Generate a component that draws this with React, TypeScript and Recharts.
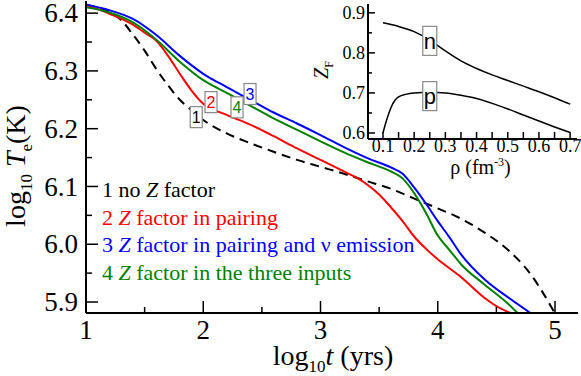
import React from 'react';
import { LineChart, Line, XAxis, YAxis, ReferenceDot, Legend, Label } from 'recharts';

// main panel: log10 Te vs log10 t
const noZ = [
  { x: 1.0, y: 6.414 }, { x: 1.2, y: 6.402 }, { x: 1.3, y: 6.388 }, { x: 1.4, y: 6.363 },
  { x: 1.5, y: 6.335 }, { x: 1.6, y: 6.303 }, { x: 1.7, y: 6.275 }, { x: 1.8, y: 6.25 },
  { x: 1.9, y: 6.232 }, { x: 2.0, y: 6.215 }, { x: 2.2, y: 6.192 }, { x: 2.4, y: 6.175 },
  { x: 2.6, y: 6.16 }, { x: 2.8, y: 6.146 }, { x: 3.0, y: 6.134 }, { x: 3.2, y: 6.122 },
  { x: 3.4, y: 6.109 }, { x: 3.6, y: 6.096 }, { x: 3.8, y: 6.079 }, { x: 4.0, y: 6.062 },
  { x: 4.2, y: 6.044 }, { x: 4.4, y: 6.02 }, { x: 4.6, y: 5.99 }, { x: 4.8, y: 5.946 },
  { x: 4.9, y: 5.915 }, { x: 5.0, y: 5.88 },
];
const zPairing = [
  { x: 1.0, y: 6.414 }, { x: 1.2, y: 6.399 }, { x: 1.4, y: 6.38 }, { x: 1.5, y: 6.366 },
  { x: 1.6, y: 6.352 }, { x: 1.7, y: 6.326 }, { x: 1.8, y: 6.295 }, { x: 1.9, y: 6.266 },
  { x: 2.0, y: 6.243 }, { x: 2.2, y: 6.224 }, { x: 2.4, y: 6.207 }, { x: 2.6, y: 6.187 },
  { x: 2.8, y: 6.166 }, { x: 3.0, y: 6.146 }, { x: 3.2, y: 6.126 }, { x: 3.3, y: 6.116 },
  { x: 3.4, y: 6.103 }, { x: 3.5, y: 6.086 }, { x: 3.6, y: 6.064 }, { x: 3.7, y: 6.04 },
  { x: 3.8, y: 6.013 }, { x: 3.9, y: 5.992 }, { x: 4.0, y: 5.974 }, { x: 4.2, y: 5.943 },
  { x: 4.4, y: 5.907 }, { x: 4.5, y: 5.893 }, { x: 4.62, y: 5.881 },
];
const zPairingNu = [
  { x: 1.0, y: 6.415 }, { x: 1.2, y: 6.405 }, { x: 1.4, y: 6.39 }, { x: 1.6, y: 6.362 },
  { x: 1.8, y: 6.326 }, { x: 2.0, y: 6.295 }, { x: 2.2, y: 6.272 }, { x: 2.4, y: 6.25 },
  { x: 2.6, y: 6.228 }, { x: 2.8, y: 6.209 }, { x: 3.0, y: 6.189 }, { x: 3.2, y: 6.168 },
  { x: 3.4, y: 6.149 }, { x: 3.6, y: 6.133 }, { x: 3.7, y: 6.122 }, { x: 3.8, y: 6.098 },
  { x: 3.9, y: 6.07 }, { x: 4.0, y: 6.04 }, { x: 4.1, y: 6.012 }, { x: 4.2, y: 5.982 },
  { x: 4.4, y: 5.939 }, { x: 4.6, y: 5.908 }, { x: 4.79, y: 5.881 },
];
const zThree = [
  { x: 1.0, y: 6.41 }, { x: 1.2, y: 6.401 }, { x: 1.4, y: 6.384 }, { x: 1.6, y: 6.354 },
  { x: 1.8, y: 6.316 }, { x: 2.0, y: 6.284 }, { x: 2.2, y: 6.262 }, { x: 2.4, y: 6.24 },
  { x: 2.6, y: 6.218 }, { x: 2.8, y: 6.198 }, { x: 3.0, y: 6.178 }, { x: 3.2, y: 6.159 },
  { x: 3.4, y: 6.142 }, { x: 3.6, y: 6.126 }, { x: 3.7, y: 6.114 }, { x: 3.8, y: 6.088 },
  { x: 3.9, y: 6.054 }, { x: 4.0, y: 6.015 }, { x: 4.1, y: 5.99 }, { x: 4.2, y: 5.965 },
  { x: 4.4, y: 5.93 }, { x: 4.6, y: 5.897 }, { x: 4.68, y: 5.881 },
];

// inset: Z factor vs density
const zfNeutron = [
  { x: 0.1, y: 0.875 }, { x: 0.15, y: 0.866 }, { x: 0.2, y: 0.853 }, { x: 0.25, y: 0.832 },
  { x: 0.3, y: 0.805 }, { x: 0.35, y: 0.78 }, { x: 0.4, y: 0.761 }, { x: 0.45, y: 0.745 },
  { x: 0.5, y: 0.731 }, { x: 0.55, y: 0.717 }, { x: 0.6, y: 0.703 }, { x: 0.65, y: 0.688 },
  { x: 0.7, y: 0.672 },
];
const zfProton = [
  { x: 0.1, y: 0.6 }, { x: 0.11, y: 0.628 }, { x: 0.12, y: 0.652 }, { x: 0.13, y: 0.671 },
  { x: 0.14, y: 0.683 }, { x: 0.15, y: 0.69 }, { x: 0.175, y: 0.697 }, { x: 0.2, y: 0.7 },
  { x: 0.25, y: 0.702 }, { x: 0.3, y: 0.7 }, { x: 0.35, y: 0.694 }, { x: 0.4, y: 0.686 },
  { x: 0.45, y: 0.674 }, { x: 0.5, y: 0.66 }, { x: 0.55, y: 0.645 }, { x: 0.6, y: 0.63 },
  { x: 0.65, y: 0.615 }, { x: 0.7, y: 0.601 },
];

const mainXTicks = [1, 1.5, 2, 2.5, 3, 3.5, 4, 4.5, 5];
const mainYTicks = [5.9, 5.95, 6.0, 6.05, 6.1, 6.15, 6.2, 6.25, 6.3, 6.35, 6.4];
const insetXTicks = [0.1, 0.15, 0.2, 0.25, 0.3, 0.35, 0.4, 0.45, 0.5, 0.55, 0.6, 0.65, 0.7];
const insetYTicks = [0.6, 0.65, 0.7, 0.75, 0.8, 0.85, 0.9];

const series = [
  { key: 'noZ', num: '1', data: noZ, color: '#000000', dash: '9 6', label: '1 no *Z* factor' },
  { key: 'pair', num: '2', data: zPairing, color: '#ff0000', dash: undefined, label: '2 *Z* factor in pairing' },
  { key: 'nu', num: '3', data: zPairingNu, color: '#0000ff', dash: undefined, label: '3 *Z* factor in pairing and ν emission' },
  { key: 'three', num: '4', data: zThree, color: '#008000', dash: undefined, label: '4 *Z* factor in the three inputs' },
];

// numbered boxes on the curves, in data units
const curveTags = [
  { text: '1', x: 1.94, y: 6.22, color: '#000000' },
  { text: '2', x: 2.066, y: 6.246, color: '#ff0000' },
  { text: '4', x: 2.288, y: 6.237, color: '#008000' },
  { text: '3', x: 2.399, y: 6.26, color: '#0000ff' },
];
const insetTags = [
  { text: 'n', x: 0.25, y: 0.83 },
  { text: 'p', x: 0.25, y: 0.692 },
];

const SERIF = '"Liberation Serif", "Times New Roman", serif';
const SANS = '"Liberation Sans", Arial, sans-serif';

const isTenth = (v: number) => Math.abs(v * 10 - Math.round(v * 10)) < 1e-6;
const isWhole = (v: number) => Math.abs(v - Math.round(v)) < 1e-6;

interface TickCfg {
  side: 'left' | 'right' | 'top' | 'bottom';
  isMajor: (v: number) => boolean;
  majorLen: number;
  minorLen: number;
  fontSize?: number;
  gap?: number;
  fmt?: (v: number) => string;
}

// inward ticks with labels only on the major ones
const makeTick = (c: TickCfg) => (props: any) => {
  const { x, y, payload } = props;
  const v = payload.value as number;
  const major = c.isMajor(v);
  const len = major ? c.majorLen : c.minorLen;
  const d = { left: [len, 0], right: [-len, 0], top: [0, len], bottom: [0, -len] }[c.side];
  let label = null;
  if (major && c.fmt && c.fontSize) {
    const fs = c.fontSize;
    if (c.side === 'left') {
      label = (
        <text x={x - (c.gap || 0)} y={y + fs * 0.34} textAnchor="end" fontFamily={SERIF} fontSize={fs} fill="#000">
          {c.fmt(v)}
        </text>
      );
    } else if (c.side === 'bottom') {
      label = (
        <text x={x} y={y + (c.gap || 0)} textAnchor="middle" fontFamily={SERIF} fontSize={fs} fill="#000">
          {c.fmt(v)}
        </text>
      );
    }
  }
  return (
    <g>
      <line x1={x} y1={y} x2={x + d[0]} y2={y + d[1]} stroke="#000" strokeWidth={1.5} />
      {label}
    </g>
  );
};

const TagBox = ({ cx, cy, text, color, w, h, fs }: any) => (
  <g>
    <rect x={cx - w / 2} y={cy - h / 2} width={w} height={h} fill="#fff" stroke="#888" strokeWidth={1.2} />
    <text x={cx} y={cy + fs * 0.36} textAnchor="middle" fontFamily={SANS} fontSize={fs} fill={color}>
      {text}
    </text>
  </g>
);

const renderLabelText = (s: string) =>
  s.split('*').map((part, i) =>
    i % 2 === 1 ? <i key={i}>{part}</i> : <span key={i}>{part}</span>
  );

const LegendBlock = () => (
  <div style={{ fontFamily: SERIF, fontSize: 22, lineHeight: '27.7px', whiteSpace: 'nowrap' }}>
    {series.map((s) => (
      <div key={s.key} style={{ color: s.color }}>{renderLabelText(s.label)}</div>
    ))}
  </div>
);

const axisStroke = { stroke: '#000', strokeWidth: 2 };

const App = () => {
  const xDomain = [1, 5.196];
  const yDomain = [5.881, 6.421];
  const ixDomain = [0.052, 0.722];
  const iyDomain = [0.585, 0.922];

  return (
    <div style={{ position: 'absolute', left: 0, top: 0, width: 581, height: 376, background: '#fff' }}>
      <div style={{ position: 'absolute', left: 0, top: 0 }}>
        <LineChart width={581} height={376} margin={{ top: 1, right: 3, bottom: 0, left: 0 }}>
          <XAxis
            dataKey="x"
            type="number"
            domain={xDomain}
            ticks={mainXTicks}
            interval={0}
            allowDataOverflow
            height={63}
            tickSize={0}
            tickMargin={0}
            tickLine={false}
            axisLine={axisStroke}
            tick={makeTick({ side: 'bottom', isMajor: isWhole, majorLen: 12, minorLen: 6, fontSize: 27, gap: 26, fmt: (v) => String(v) })}
          >
            <Label
              content={({ viewBox }: any) => {
                const cx = viewBox.x + viewBox.width / 2 + 1;
                const by = viewBox.y + 52;
                return (
                  <text x={cx} y={by} textAnchor="middle" fontFamily={SERIF} fontSize={28} fill="#000">
                    <tspan>log</tspan>
                    <tspan dy={7} fontSize={17}>10</tspan>
                    <tspan dy={-7} fontStyle="italic">t</tspan>
                    <tspan> (yrs)</tspan>
                  </text>
                );
              }}
            />
          </XAxis>
          <XAxis xAxisId="top" orientation="top" type="number" domain={xDomain} allowDataOverflow height={0} tick={false} tickLine={false} axisLine={axisStroke} />
          <YAxis
            type="number"
            domain={yDomain}
            ticks={mainYTicks}
            interval={0}
            allowDataOverflow
            width={86}
            tickSize={0}
            tickMargin={0}
            tickLine={false}
            axisLine={axisStroke}
            tick={makeTick({ side: 'left', isMajor: isTenth, majorLen: 12, minorLen: 6, fontSize: 27, gap: 8, fmt: (v) => v.toFixed(1) })}
          >
            <Label
              content={({ viewBox }: any) => {
                const bx = viewBox.x + 25;
                const cy = viewBox.y + 165;
                return (
                  <text transform={`rotate(-90 ${bx} ${cy})`} x={bx} y={cy} textAnchor="middle" fontFamily={SERIF} fontSize={28} fill="#000">
                    <tspan>log</tspan>
                    <tspan dy={7} fontSize={17}>10</tspan>
                    <tspan dy={-7}> </tspan>
                    <tspan fontStyle="italic">T</tspan>
                    <tspan dy={7} fontSize={17}>e</tspan>
                    <tspan dy={-7}>(K)</tspan>
                  </text>
                );
              }}
            />
          </YAxis>
          <YAxis yAxisId="right" orientation="right" type="number" domain={yDomain} allowDataOverflow width={0} tick={false} tickLine={false} axisLine={axisStroke} />
          {series.map((s) => (
            <Line
              key={s.key}
              data={s.data}
              dataKey="y"
              type="monotone"
              stroke={s.color}
              strokeWidth={2}
              strokeDasharray={s.dash}
              dot={false}
              activeDot={false}
              isAnimationActive={false}
            />
          ))}
          {curveTags.map((t) => (
            <ReferenceDot
              key={t.text}
              x={t.x}
              y={t.y}
              r={0}
              shape={(p: any) => <TagBox cx={p.cx} cy={p.cy} text={t.text} color={t.color} w={12} h={21} fs={16} />}
            />
          ))}
          <Legend
            layout="vertical"
            align="center"
            verticalAlign="middle"
            wrapperStyle={{ left: 102, top: 176, width: 'auto' }}
            content={() => <LegendBlock />}
          />
        </LineChart>
      </div>

      <div style={{ position: 'absolute', left: 300, top: 0 }}>
        <LineChart width={281} height={180} margin={{ top: 4, right: 4, bottom: 0, left: 0 }}>
          <XAxis
            dataKey="x"
            type="number"
            domain={ixDomain}
            ticks={insetXTicks}
            interval={0}
            allowDataOverflow
            height={41}
            tickSize={0}
            tickMargin={0}
            tickLine={false}
            axisLine={axisStroke}
            tick={makeTick({ side: 'bottom', isMajor: isTenth, majorLen: 7, minorLen: 7, fontSize: 18, gap: 13, fmt: (v) => v.toFixed(1) })}
          >
            <Label
              content={({ viewBox }: any) => {
                const cx = viewBox.x + viewBox.width / 2 + 8;
                const by = viewBox.y + 35;
                return (
                  <text x={cx} y={by} textAnchor="middle" fontFamily={SERIF} fontSize={20} fill="#000">
                    <tspan>ρ (fm</tspan>
                    <tspan dy={-8} fontSize={12}>-3</tspan>
                    <tspan dy={8}>)</tspan>
                  </text>
                );
              }}
            />
          </XAxis>
          <XAxis
            xAxisId="top"
            orientation="top"
            type="number"
            domain={ixDomain}
            ticks={insetXTicks}
            interval={0}
            allowDataOverflow
            height={0}
            tickSize={0}
            tickMargin={0}
            tickLine={false}
            axisLine={axisStroke}
            tick={makeTick({ side: 'top', isMajor: isTenth, majorLen: 5, minorLen: 5 })}
          />
          <YAxis
            type="number"
            domain={iyDomain}
            ticks={insetYTicks}
            interval={0}
            allowDataOverflow
            width={68}
            tickSize={0}
            tickMargin={0}
            tickLine={false}
            axisLine={axisStroke}
            tick={makeTick({ side: 'left', isMajor: isTenth, majorLen: 7, minorLen: 4, fontSize: 18, gap: 3, fmt: (v) => v.toFixed(1) })}
          >
            <Label
              content={({ viewBox }: any) => {
                const bx = viewBox.x + 28;
                const cy = viewBox.y + 66;
                return (
                  <text transform={`rotate(-90 ${bx} ${cy})`} x={bx} y={cy} textAnchor="middle" fontFamily={SERIF} fontSize={20} fill="#000">
                    <tspan fontStyle="italic">Z</tspan>
                    <tspan dy={5} fontSize={12}>F</tspan>
                  </text>
                );
              }}
            />
          </YAxis>
          <YAxis
            yAxisId="right"
            orientation="right"
            type="number"
            domain={iyDomain}
            ticks={insetYTicks}
            interval={0}
            allowDataOverflow
            width={0}
            tickSize={0}
            tickMargin={0}
            tickLine={false}
            axisLine={axisStroke}
            tick={makeTick({ side: 'right', isMajor: isTenth, majorLen: 7, minorLen: 4 })}
          />
          <Line data={zfNeutron} dataKey="y" type="monotone" stroke="#000" strokeWidth={1.5} dot={false} activeDot={false} isAnimationActive={false} />
          <Line data={zfProton} dataKey="y" type="monotone" stroke="#000" strokeWidth={1.5} dot={false} activeDot={false} isAnimationActive={false} />
          {insetTags.map((t) => (
            <ReferenceDot
              key={t.text}
              x={t.x}
              y={t.y}
              r={0}
              shape={(p: any) => <TagBox cx={p.cx} cy={p.cy} text={t.text} color="#000" w={14} h={29} fs={22} />}
            />
          ))}
        </LineChart>
      </div>
    </div>
  );
};

export default App;
